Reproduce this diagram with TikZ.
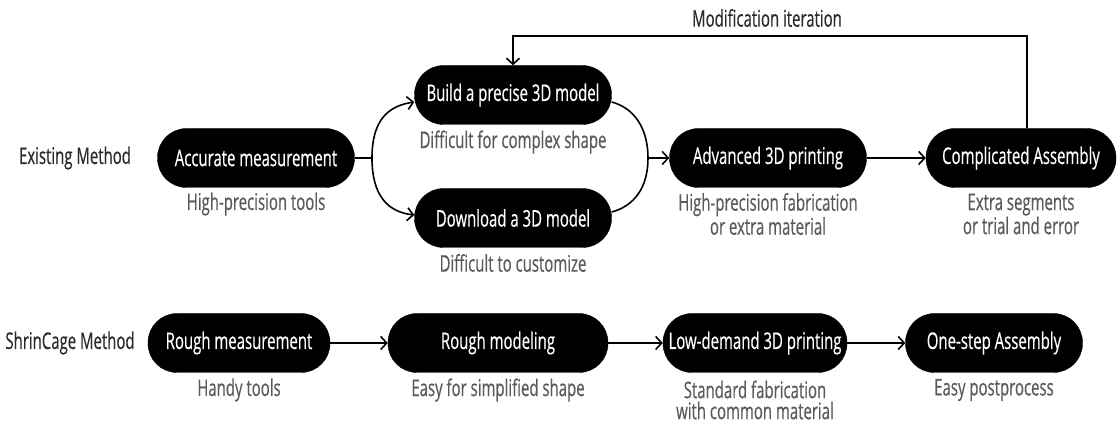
\documentclass[tikz,border=0pt]{standalone}
\usepackage{fontspec}
\setmainfont{Open Sans}[FakeStretch=0.65, FakeBold=0.4]
\usetikzlibrary{arrows.meta,calc}
\definecolor{capgray}{HTML}{5A5A5A}
\definecolor{labgray}{HTML}{2A2A2A}
\newcommand{\txt}{\fontsize{23}{21}\selectfont}
\begin{document}
\begin{tikzpicture}[x=1pt,y=-1pt,
  pill/.style={fill=black, draw=black, rounded corners=29pt, minimum height=59pt,
               text=white, font=\txt, inner sep=0pt},
  note/.style={text=capgray, font=\txt, align=center, inner sep=0pt},
  lab/.style={text=labgray, font=\txt, inner sep=0pt},
  link/.style={line width=1.6pt},
  flow/.style={line width=1.6pt, -{Straight Barb[length=6pt,width=13pt,line width=1.6pt]}}]
\useasboundingbox (0,0) rectangle (1117,427);

% row labels
\node[lab] (ex) at (75,158) {Existing Method};
\node[lab] (sc) at (70,343) {ShrinCage Method};

% existing method
\node[pill, minimum width=197pt] (acc) at (256,158) {Accurate measurement};
\node[pill, minimum width=197pt] (build) at (513,95) {Build a precise 3D model};
\node[pill, minimum width=197pt] (down) at (513,218) {Download a 3D model};
\node[pill, minimum width=197pt] (adv) at (768,158) {Advanced 3D printing};
\node[pill, minimum width=190pt] (comp) at (1021,158) {Complicated Assembly};

\node[note] (accn) at (256,204) {High-precision tools};
\node[note] (buildn) at (513,142) {Difficult for complex shape};
\node[note] (downn) at (513,263) {Difficult to customize};
\node[note] (advn) at (768,214) {High-precision fabrication\\or extra material};
\node[note] (compn) at (1021,214) {Extra segments\\or trial and error};

% ShrinCage method
\node[pill, minimum width=182pt] (rm) at (239,343) {Rough measurement};
\node[pill, minimum width=220pt] (rmod) at (498,343) {Rough modeling};
\node[pill, minimum width=184pt] (low) at (755,343) {Low-demand 3D printing};
\node[pill, minimum width=177pt] (one) at (994,343) {One-step Assembly};

\node[note] (rmn) at (239,390) {Handy tools};
\node[note] (rmodn) at (498,390) {Easy for simplified shape};
\node[note] (lown) at (755,400) {Standard fabrication\\with common material};
\node[note] (onen) at (994,390) {Easy postprocess};

% split and merge around the modelling step
\coordinate (jl) at (372,158);
\coordinate (jr) at (648,158);
\coordinate (bin) at ([yshift=-7pt]build.west);
\coordinate (din) at ([yshift=3pt]down.west);
\coordinate (bout) at ([yshift=-7pt]build.east);
\coordinate (dout) at ([yshift=6pt]down.east);
\draw[link] (acc.east) -- (jl);
\draw[flow] (jl) .. controls (372,120) and (388,106) .. (bin);
\draw[flow] (jl) .. controls (372,196) and (388,212) .. (din);
\draw[link] (bout) .. controls (634,108) and (648,128) .. (jr);
\draw[link] (dout) .. controls (634,206) and (648,188) .. (jr);
\draw[flow] (jr) -- (adv.west);
\draw[flow] (adv.east) -- (comp.west);

% feedback loop
\coordinate (fb) at ([xshift=6pt]comp.north);
\coordinate (fbtop) at (build.north |- 0,36);
\draw[flow] (fb) |- (fbtop) -- (build.north);
\node[lab] (mod) at (767,18) {Modification iteration};

% lower row
\draw[flow] (rm.east) -- (rmod.west);
\draw[flow] (rmod.east) -- (low.west);
\draw[flow] (low.east) -- (one.west);
\end{tikzpicture}
\end{document}
